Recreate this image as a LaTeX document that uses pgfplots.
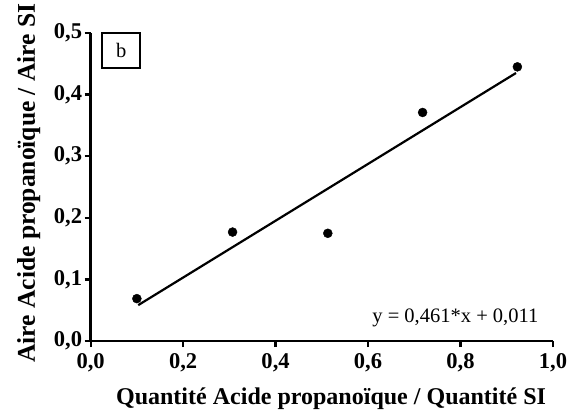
\documentclass[border=0pt]{standalone}
\usepackage{pgfplots}
\pgfplotsset{compat=1.18}
\usepackage{fontspec}
\setmainfont{Liberation Serif}

\begin{document}
\begin{tikzpicture}
\begin{axis}[
    scale only axis,
    width=462pt, height=308pt,
    xmin=0, xmax=1, ymin=0, ymax=0.5,
    axis x line*=bottom, axis y line*=left,
    axis line style={line width=2.4pt, -},
    xtick={0,0.2,...,1.0},
    ytick={0,0.1,...,0.5},
    tick align=outside,
    major tick length=6pt,
    tick style={line width=2.2pt, black},
    /pgf/number format/assume math mode=true,
    /pgf/number format/use comma,
    /pgf/number format/fixed,
    /pgf/number format/fixed zerofill,
    /pgf/number format/precision=1,
    ticklabel style={font=\fontsize{22.5}{24}\selectfont\bfseries},
    xticklabel style={yshift=-3pt},
    yticklabel style={xshift=1pt},
    xlabel={Quantité Acide propanoïque / Quantité SI},
    ylabel={Aire Acide propanoïque / Aire SI},
    xlabel style={font=\fontsize{24}{26}\selectfont\bfseries,
                  at={(rel axis cs:0.52,-0.2045)}, anchor=base},
    ylabel style={font=\fontsize{25.5}{27}\selectfont\bfseries,
                  at={(rel axis cs:-0.1205,0.513)}, anchor=base},
    clip=false,
]
% fix the bounding box to the reference frame
\path (rel axis cs:-0.196,-0.25) rectangle (rel axis cs:1.0476,1.104);
\addplot[only marks, mark=*, mark size=4.5pt, black]
    coordinates {(0.100,0.069) (0.307,0.177) (0.513,0.175) (0.718,0.371) (0.923,0.445)};
\addplot[no marks, line width=2.2pt, black]
    coordinates {(0.103,0.0585) (0.920,0.435)};
\node[draw, line width=1.8pt, minimum width=38pt, minimum height=35pt,
      font=\fontsize{20.5}{22}\selectfont] at (axis cs:0.066,0.471) {b};
\node[anchor=base east, font=\fontsize{20.5}{22}\selectfont] at (axis cs:0.976,0.0297)
    {y = 0,461*x + 0,011};
\end{axis}
\end{tikzpicture}
\end{document}
